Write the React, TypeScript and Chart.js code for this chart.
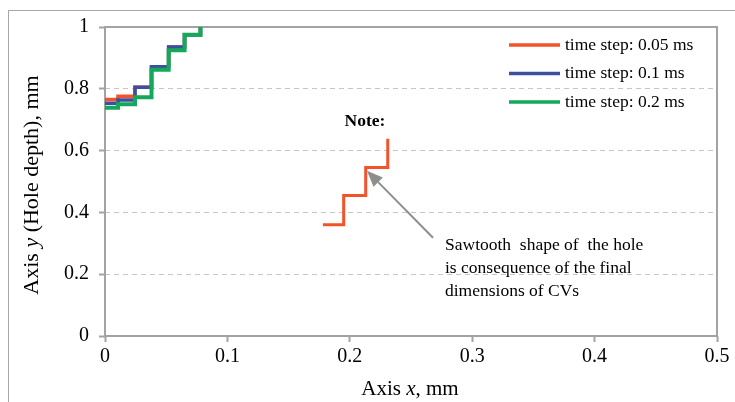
import React, { useEffect, useRef } from "react";
import { Chart, registerables } from "chart.js";

Chart.register(...registerables);

const SERIES_LABELS = ["time step: 0.05 ms", "time step: 0.1 ms", "time step: 0.2 ms"];
const SERIES_COLORS = ["#f2532a", "#3d4f9f", "#13a85a"];

const STEP_X = [0, 0.0106, 0.0245, 0.038, 0.052, 0.065, 0.078];
const ORANGE_Y = [0.765, 0.776, 0.805, 0.871, 0.935, 0.975, 1.0];
const BLUE_Y = [0.753, 0.764, 0.805, 0.871, 0.935, 0.975, 1.0];
const GREEN_Y = [0.739, 0.75, 0.773, 0.862, 0.925, 0.975, 1.0];

const SAW_X = [0.178, 0.195, 0.213, 0.231];
const SAW_Y = [0.36, 0.455, 0.545, 0.638];

const ARROW_FROM = [0.268, 0.318];
const ARROW_TO = [0.214, 0.535];

const NOTE_TITLE = "Note:";
const NOTE_LINES = ["Sawtooth  shape of  the hole", "is consequence of the final", "dimensions of CVs"];

const X_MIN = 0, X_MAX = 0.5, X_STEP = 0.1;
const Y_MIN = 0, Y_MAX = 1, Y_STEP = 0.2;

const SERIF = "'Liberation Serif', 'Times New Roman', serif";

function pts(xs: number[], ys: number[]) {
  return xs.map((x, i) => ({ x, y: ys[i] }));
}

const fmt = (v: any) => String(Number(Number(v).toFixed(2)));

const decor = {
  id: "decor",
  beforeDatasetsDraw(chart: any) {
    const { ctx, chartArea: a } = chart;
    ctx.save();
    ctx.strokeStyle = "#a3a3a3";
    ctx.lineWidth = 2;
    ctx.strokeRect(a.left, a.top, a.right - a.left, a.bottom - a.top);
    ctx.restore();
  },
  beforeDraw(chart: any) {
    const { ctx } = chart;
    ctx.save();
    ctx.strokeStyle = "#a8a8a8";
    ctx.lineWidth = 1;
    ctx.strokeRect(8.5, 10.5, 800, 500);
    ctx.restore();
  },
  afterDraw(chart: any) {
    const { ctx, scales } = chart;
    const xs = scales.x, ys = scales.y;
    ctx.save();
    ctx.fillStyle = "#000";
    ctx.textBaseline = "middle";

    // legend
    const ds = chart.data.datasets;
    for (let i = 0; i < 3; i++) {
      const y = 45 + i * 28.5;
      ctx.strokeStyle = ds[i].borderColor;
      ctx.lineWidth = 3.5;
      ctx.beginPath();
      ctx.moveTo(509, y);
      ctx.lineTo(560, y);
      ctx.stroke();
      ctx.font = `17.5px ${SERIF}`;
      ctx.textAlign = "left";
      ctx.fillText(ds[i].label, 565, y);
    }

    // y title with italic y
    ctx.save();
    ctx.translate(32, 185);
    ctx.rotate(-Math.PI / 2);
    const parts: [string, string][] = [["Axis ", "normal"], ["y", "italic"], [" (Hole depth), mm", "normal"]];
    let total = 0;
    for (const [t, st] of parts) { ctx.font = `${st} 22px ${SERIF}`; total += ctx.measureText(t).width; }
    let cx = -total / 2;
    ctx.textAlign = "left";
    for (const [t, st] of parts) { ctx.font = `${st} 22px ${SERIF}`; ctx.fillText(t, cx, 0); cx += ctx.measureText(t).width; }
    ctx.restore();

    // x title with italic x
    const xparts: [string, string][] = [["Axis ", "normal"], ["x", "italic"], [", mm", "normal"]];
    total = 0;
    for (const [t, st] of xparts) { ctx.font = `${st} 21px ${SERIF}`; total += ctx.measureText(t).width; }
    cx = 410 - total / 2;
    ctx.textAlign = "left";
    for (const [t, st] of xparts) { ctx.font = `${st} 21px ${SERIF}`; ctx.fillText(t, cx, 389); cx += ctx.measureText(t).width; }

    // note
    ctx.font = `bold 17.5px ${SERIF}`;
    ctx.textAlign = "center";
    ctx.fillText(NOTE_TITLE, 365, 121);
    ctx.font = `17.5px ${SERIF}`;
    ctx.textAlign = "left";
    NOTE_LINES.forEach((l, i) => ctx.fillText(l, 445, 245 + i * 23));

    // arrow
    const x0 = xs.getPixelForValue(ARROW_FROM[0]), y0 = ys.getPixelForValue(ARROW_FROM[1]);
    const x1 = xs.getPixelForValue(ARROW_TO[0]), y1 = ys.getPixelForValue(ARROW_TO[1]);
    const ang = Math.atan2(y1 - y0, x1 - x0);
    const hl = 16, hw = 6.5;
    const bx = x1 - hl * Math.cos(ang), by = y1 - hl * Math.sin(ang);
    ctx.strokeStyle = "#8e8e8e";
    ctx.fillStyle = "#8e8e8e";
    ctx.lineWidth = 2;
    ctx.beginPath();
    ctx.moveTo(x0, y0);
    ctx.lineTo(bx, by);
    ctx.stroke();
    ctx.beginPath();
    ctx.moveTo(x1, y1);
    ctx.lineTo(bx + hw * Math.sin(ang), by - hw * Math.cos(ang));
    ctx.lineTo(bx - hw * Math.sin(ang), by + hw * Math.cos(ang));
    ctx.closePath();
    ctx.fill();
    ctx.restore();
  },
};

export default function App() {
  const ref = useRef<HTMLCanvasElement>(null);
  useEffect(() => {
    if (!ref.current) return;
    const mk = (i: number, ys: number[], order: number, width: number) => ({
      label: SERIES_LABELS[i],
      data: pts(STEP_X, ys),
      borderColor: SERIES_COLORS[i],
      backgroundColor: SERIES_COLORS[i],
      borderWidth: width,
      stepped: true,
      pointRadius: 0,
      order,
      fill: false,
    });
    const chart = new Chart(ref.current, {
      type: "line",
      data: {
        datasets: [
          mk(0, ORANGE_Y, 3, 3.5),
          mk(1, BLUE_Y, 2, 3.5),
          mk(2, GREEN_Y, 1, 4),
          {
            label: "sawtooth",
            data: pts(SAW_X, SAW_Y),
            borderColor: SERIES_COLORS[0],
            borderWidth: 3,
            stepped: true,
            pointRadius: 0,
            order: 0,
            fill: false,
          },
        ],
      },
      options: {
        animation: false,
        responsive: false,
        layout: { padding: { left: 0, top: 27, right: 18, bottom: 0 } },
        plugins: { legend: { display: false }, tooltip: { enabled: false }, title: { display: false } },
        scales: {
          x: {
            type: "linear",
            min: X_MIN,
            max: X_MAX,
            ticks: { stepSize: X_STEP, color: "#000", font: { family: SERIF, size: 20 }, padding: 3, maxRotation: 0, callback: fmt },
            grid: { drawOnChartArea: false, drawTicks: true, tickLength: 6, tickColor: "#a3a3a3", tickWidth: 2 },
            border: { display: false },
            afterFit: (s: any) => { s.height = 66; },
          },
          y: {
            type: "linear",
            min: Y_MIN,
            max: Y_MAX,
            ticks: { stepSize: Y_STEP, color: "#000", font: { family: SERIF, size: 20 }, padding: 10, callback: fmt },
            grid: {
              color: (c: any) => (c.tick && c.tick.value > Y_MIN && c.tick.value < Y_MAX ? "#c6c6c6" : "rgba(0,0,0,0)"),
              lineWidth: 1,
              drawTicks: true,
              tickLength: 6,
              tickColor: "#a3a3a3",
              tickWidth: 2,
              tickBorderDash: [],
            },
            border: { display: false, dash: [5, 4] },
            afterFit: (s: any) => { s.width = 105; },
          },
        },
      },
      plugins: [decor],
    } as any);
    return () => chart.destroy();
  }, []);
  return (
    <div style={{ position: "absolute", left: 0, top: 0, width: 735, height: 402 }}>
      <canvas ref={ref} width={735} height={402} />
    </div>
  );
}
